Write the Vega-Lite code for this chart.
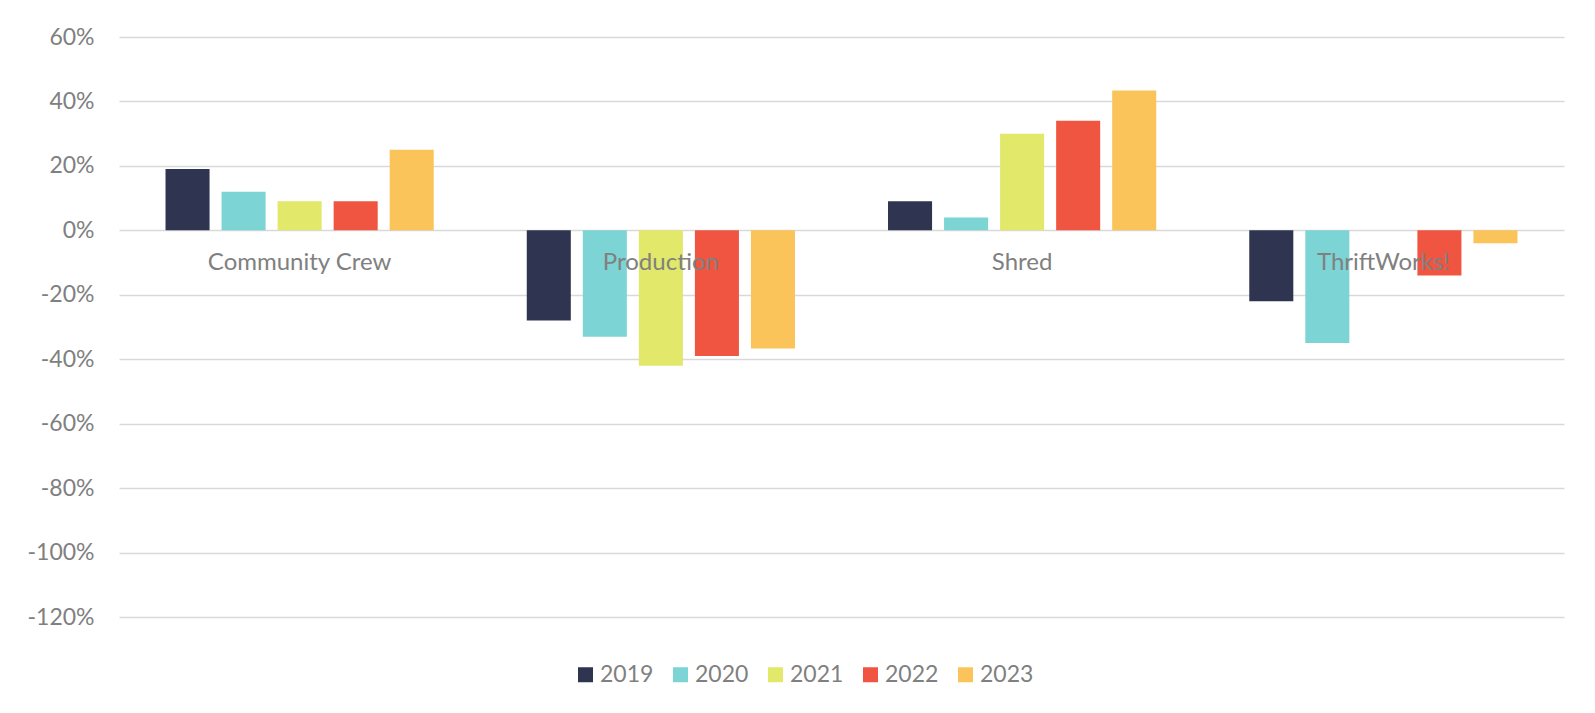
{
  "$schema": "https://vega.github.io/schema/vega-lite/v6.json",
  "width": 1445,
  "height": 580,
  "autosize": {"type": "none"},
  "padding": {"left": 119, "top": 37, "right": 31, "bottom": 96},
  "background": "white",
  "config": {
    "view": {"stroke": null},
    "font": "Lato"
  },
  "datasets": {
    "bars": [
      {"category": "Community Crew", "year": "2019", "value": 0.19},
      {"category": "Community Crew", "year": "2020", "value": 0.12},
      {"category": "Community Crew", "year": "2021", "value": 0.09},
      {"category": "Community Crew", "year": "2022", "value": 0.09},
      {"category": "Community Crew", "year": "2023", "value": 0.25},
      {"category": "Production", "year": "2019", "value": -0.28},
      {"category": "Production", "year": "2020", "value": -0.33},
      {"category": "Production", "year": "2021", "value": -0.42},
      {"category": "Production", "year": "2022", "value": -0.39},
      {"category": "Production", "year": "2023", "value": -0.367},
      {"category": "Shred", "year": "2019", "value": 0.09},
      {"category": "Shred", "year": "2020", "value": 0.04},
      {"category": "Shred", "year": "2021", "value": 0.30},
      {"category": "Shred", "year": "2022", "value": 0.34},
      {"category": "Shred", "year": "2023", "value": 0.434},
      {"category": "ThriftWorks!", "year": "2019", "value": -0.22},
      {"category": "ThriftWorks!", "year": "2020", "value": -0.35},
      {"category": "ThriftWorks!", "year": "2022", "value": -0.14},
      {"category": "ThriftWorks!", "year": "2023", "value": -0.04}
    ],
    "cats": [
      {"category": "Community Crew"},
      {"category": "Production"},
      {"category": "Shred"},
      {"category": "ThriftWorks!"}
    ]
  },
  "layer": [
    {
      "data": {"name": "bars"},
      "mark": {"type": "bar"},
      "encoding": {
        "x": {
          "field": "category",
          "type": "nominal",
          "sort": ["Community Crew", "Production", "Shred", "ThriftWorks!"],
          "scale": {"paddingInner": 0, "paddingOuter": 0},
          "axis": null
        },
        "xOffset": {
          "field": "year",
          "type": "nominal",
          "scale": {"domain": ["2019", "2020", "2021", "2022", "2023"], "paddingInner": 0.214, "paddingOuter": 0.83}
        },
        "y": {
          "field": "value",
          "type": "quantitative",
          "scale": {"domain": [-1.2, 0.6], "nice": false, "zero": true},
          "axis": {
            "title": null,
            "values": [-1.2, -1, -0.8, -0.6, -0.4, -0.2, 0, 0.2, 0.4, 0.6],
            "format": ".0%",
            "labelExpr": "replace(datum.label, '\u2212', '-')",
            "domain": false,
            "ticks": false,
            "labelPadding": 25,
            "labelFont": "Lato",
            "labelFontSize": 23,
            "labelColor": "#808080",
            "grid": true,
            "gridColor": "#D9D9D9",
            "gridWidth": 1.4
          }
        },
        "color": {
          "field": "year",
          "type": "nominal",
          "scale": {
            "domain": ["2019", "2020", "2021", "2022", "2023"],
            "range": ["#2F3550", "#7DD4D4", "#E1E86A", "#EF5541", "#FBC45A"]
          },
          "legend": {
            "title": null,
            "orient": "none",
            "legendX": 455,
            "legendY": 626,
            "direction": "horizontal",
            "symbolType": "square",
            "symbolSize": 225,
            "symbolStrokeWidth": 0,
            "labelFont": "Lato",
            "labelFontSize": 23,
            "labelColor": "#808080",
            "labelOffset": 3,
            "columnPadding": 15,
            "padding": 0
          }
        }
      }
    },
    {
      "data": {"name": "cats"},
      "mark": {"type": "text", "font": "Lato", "fontSize": 24, "color": "#808080", "baseline": "middle", "align": "center", "dy": 33},
      "encoding": {
        "x": {"field": "category", "type": "nominal", "sort": ["Community Crew", "Production", "Shred", "ThriftWorks!"]},
        "y": {"datum": 0, "type": "quantitative"},
        "text": {"field": "category"}
      }
    }
  ]
}
